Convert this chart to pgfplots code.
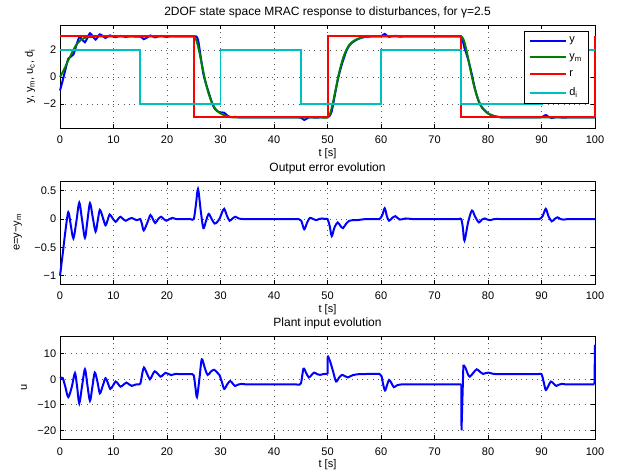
\documentclass[border=0pt]{standalone}
\usepackage{fontspec}
\setmainfont{Liberation Sans}
\usepackage{pgfplots}
\pgfplotsset{compat=1.18}
\definecolor{mblue}{rgb}{0,0,1}
\definecolor{mgreen}{rgb}{0,0.5,0}
\definecolor{mred}{rgb}{1,0,0}
\definecolor{mcyan}{rgb}{0,0.75,0.75}
\newcommand{\myfs}{\fontsize{11bp}{13bp}\selectfont}
\newcommand{\myft}{\fontsize{12bp}{14bp}\selectfont}
\pgfplotsset{mystyle/.style={
  scale only axis, width=535bp, height=103bp,
  xmin=0, xmax=100, xtick={0,10,...,100},
  xticklabels={0,10,20,30,40,50,60,70,80,90,100},
  grid=major,
  major grid style={black!65, line width=0.6pt, dash pattern=on 0.8bp off 4.5bp},
  axis line style={line width=0.8pt},
  tick style={black, line width=0.6pt},
  major tick length=4bp,
  tick align=inside,
  xtick pos=both, ytick pos=both,
  clip=false,
  tick label style={font=\myfs},
  label style={font=\myfs},
  xlabel={t [s]},
  xlabel style={at={(axis description cs:0.5,0)}, anchor=base, yshift=-28.5bp, inner sep=0pt},
  xticklabel style={anchor=base, yshift=-16bp, inner sep=0pt},
  every axis title/.style={font=\myft, at={(axis description cs:0.5,1)}, anchor=base, yshift=9.5bp, inner sep=0pt},
  ylabel style={anchor=base, inner sep=0pt},
  every axis plot/.append style={line width=2pt},
}}
\begin{document}
\myfs
\begin{tikzpicture}
\useasboundingbox (0,0) rectangle (618bp,475bp);
% ---------------- Plot 1 ----------------
\begin{axis}[mystyle, at={(60bp,347bp)}, anchor=south west,
  ymin=-3.78, ymax=3.85, ytick={-2,0,2}, yticklabels={−2,0,2},
  title={2DOF state space MRAC response to disturbances, for γ=2.5},
  ylabel={y, y\textsubscript{m}, u\textsubscript{c}, d\textsubscript{i}},
  ylabel style={at={(axis description cs:-0.0505,0.5)}},
  legend style={at={(axis description cs:1,1)}, anchor=north east, xshift=-6bp, yshift=-6bp,
    draw=black, line width=0.6pt, fill=white, row sep=5.5bp, inner xsep=5bp, inner ysep=3.5bp,
    font=\myfs},
  legend cell align=left,
  legend image code/.code={\draw[#1, line width=2pt] (0bp,0bp) -- (36bp,0bp);},
]
\addplot[mblue, smooth] coordinates {
(0,-1) (0.5,-0.27) (1,0.53) (1.55,1.36) (2.0,1.5) (2.5,1.66) (3.05,2.33) (3.6,2.93) (4.1,2.8) (4.66,2.57) (5.1,2.89) (5.6,3.24) (6.1,3.02) (6.65,2.77) (7.05,2.97) (7.45,3.16) (8,3.03) (8.5,2.89) (8.9,2.98) (9.3,3.08) (9.85,3.01) (10.4,2.95) (10.85,3) (11.3,3.04) (11.8,3) (12.3,2.97) (12.85,3) (13.4,3.02) (13.85,3) (14.3,2.98) (14.65,2.99) (15,3) (15.3,2.92) (15.65,2.8) (16.3,2.93) (16.9,3.07) (17.35,3) (17.8,2.93) (18.35,3) (18.9,3.04) (19.4,3) (19.9,2.97) (20.45,3) (21,3.02) (21.7,3) (22.7,3) (23.7,3) (24.4,3) (25,3) (25.4,3.01) (25.8,2.76) (26.3,1.49) (26.8,0.22) (27.3,-0.53) (27.8,-1.15) (28.35,-1.84) (28.9,-2.35) (29.4,-2.53) (29.9,-2.64) (30.3,-2.63) (30.7,-2.65) (31.2,-2.84) (31.7,-2.97) (32.25,-2.97) (32.8,-2.96) (33.4,-2.99) (34.2,-3) (35.5,-3) (37.5,-3) (40,-3) (42.5,-3) (44,-3) (44.6,-3) (45.1,-3.03) (45.65,-3.18) (46.2,-3.06) (46.7,-2.98) (47.3,-3) (47.9,-3.02) (48.45,-3) (49,-2.99) (49.5,-3) (50,-3) (50.4,-2.88) (50.8,-2.53) (51.3,-1.49) (51.9,-0.25) (52.4,0.55) (52.9,1.21) (53.5,1.9) (54.1,2.35) (54.75,2.59) (55.4,2.75) (56.3,2.9) (57.2,2.98) (58.2,3) (59.1,3) (59.7,3) (60.2,3.06) (60.7,3.19) (61.1,3.05) (61.5,2.97) (62.1,3.02) (62.7,3.05) (63.5,2.99) (64.6,3.01) (65.8,3) (67.5,3) (70,3) (72.5,3) (74,3) (74.6,3) (75,3) (75.3,2.67) (75.6,2.16) (76.3,1.29) (77,0.15) (77.6,-0.93) (78.3,-1.85) (78.85,-2.24) (79.4,-2.47) (79.9,-2.67) (80.4,-2.79) (81.2,-2.9) (82.5,-2.99) (84.5,-3) (87,-3) (88.8,-3) (89.6,-3) (90.2,-2.95) (90.8,-2.82) (91.3,-2.95) (91.9,-3.04) (92.45,-3) (93,-2.97) (93.55,-3) (94.1,-3.01) (95,-3) (96.5,-3) (98.5,-3) (100,-3)
};
\addlegendentry{y}
\addplot[mgreen, smooth] coordinates {
(0,0) (0.5,0.35) (1,0.75) (1.5,1.2) (2,1.6) (2.5,2.0) (3,2.35) (3.5,2.6) (4,2.78) (4.5,2.88) (5,2.94) (6,2.98) (7,3) (8,3) (10,3) (13,3) (16,3) (19,3) (21.5,3) (23.2,3) (24.2,3) (25,3) (25.5,2.7) (26,1.92) (26.5,0.96) (27,0) (27.5,-0.84) (28,-1.5) (28.5,-1.98) (29,-2.34) (29.5,-2.55) (30,-2.7) (31,-2.88) (32,-2.97) (33,-3) (35,-3) (38,-3) (42,-3) (45,-3) (47.5,-3) (49,-3) (50,-3) (50.5,-2.7) (51,-1.92) (51.5,-0.96) (52,0) (52.5,0.84) (53,1.5) (53.5,1.98) (54,2.34) (54.5,2.55) (55,2.7) (56,2.88) (57,2.97) (58,3) (60,3) (63,3) (67,3) (70,3) (72.5,3) (74,3) (75,3) (75.5,2.7) (76,1.92) (76.5,0.96) (77,0) (77.5,-0.84) (78,-1.5) (78.5,-1.98) (79,-2.34) (79.5,-2.55) (80,-2.7) (81,-2.88) (82,-2.97) (83,-3) (85,-3) (88,-3) (92,-3) (96,-3) (100,-3)
};
\addlegendentry{y\textsubscript{m}}
\addplot[mred] coordinates {
(0,3) (25,3) (25,-3) (50,-3) (50,3) (75,3) (75,-3) (100,-3) (100,3)
};
\addlegendentry{r}
\addplot[mcyan] coordinates {
(0,2) (15,2) (15,-2) (30,-2) (30,2) (45,2) (45,-2) (60,-2) (60,2) (75,2) (75,-2) (90,-2) (90,2) (100,2)
};
\addlegendentry{d\textsubscript{i}}
\end{axis}
% ---------------- Plot 2 ----------------
\begin{axis}[mystyle, at={(60bp,191bp)}, anchor=south west,
  ymin=-1.146, ymax=0.671, ytick={-1,-0.5,0,0.5}, yticklabels={−1,−0.5,0,0.5},
  title={Output error evolution},
  ylabel={e=y−y\textsubscript{m}},
  ylabel style={at={(axis description cs:-0.0757,0.5)}},
]
\addplot[mblue, smooth] coordinates {
(0,-1) (0.5,-0.62) (1,-0.22) (1.55,0.12) (2.0,-0.1) (2.5,-0.34) (3.05,-0.05) (3.6,0.29) (4.1,0.0) (4.66,-0.33) (5.1,-0.05) (5.6,0.28) (6.1,0.04) (6.65,-0.22) (7.05,-0.03) (7.45,0.16) (8.0,0.03) (8.5,-0.11) (8.9,-0.02) (9.3,0.08) (9.85,0.01) (10.4,-0.05) (10.85,0) (11.3,0.04) (11.8,0) (12.3,-0.03) (12.85,0) (13.4,0.02) (13.85,0) (14.3,-0.02) (14.65,-0.01) (15,0) (15.3,-0.08) (15.65,-0.2) (16.3,-0.07) (16.9,0.07) (17.35,0) (17.8,-0.07) (18.35,0) (18.9,0.04) (19.4,0) (19.9,-0.03) (20.45,0) (21,0.02) (21.7,0) (22.7,0) (23.7,0) (24.4,0) (25,0) (25.4,0.25) (25.8,0.53) (26.3,0.15) (26.8,-0.16) (27.3,-0.03) (27.8,0.09) (28.35,0.0) (28.9,-0.08) (29.4,-0.05) (29.9,0.02) (30.3,0.12) (30.7,0.18) (31.2,0.06) (31.7,-0.03) (32.25,0.01) (32.8,0.04) (33.4,0.01) (34.2,0) (35.5,0) (37.5,0) (40,0) (42.5,0) (44,0) (44.6,0) (45.1,-0.03) (45.65,-0.18) (46.2,-0.06) (46.7,0.02) (47.3,0) (47.9,-0.02) (48.45,0) (49,0.01) (49.5,0) (50,0) (50.4,-0.12) (50.8,-0.3) (51.3,-0.15) (51.9,-0.06) (52.4,-0.12) (52.9,-0.16) (53.5,-0.08) (54.1,-0.03) (54.75,-0.02) (55.4,-0.02) (56.3,-0.01) (57.2,0) (58.2,0) (59.1,0) (59.7,0) (60.2,0.06) (60.7,0.19) (61.1,0.05) (61.5,-0.03) (62.1,0.02) (62.7,0.05) (63.5,-0.01) (64.6,0.01) (65.8,0) (67.5,0) (70,0) (72.5,0) (74,0) (74.6,0) (75,0) (75.3,-0.15) (75.6,-0.38) (76.3,-0.05) (77,0.15) (77.6,0.04) (78.3,-0.06) (78.85,-0.01) (79.4,0.01) (79.9,-0.01) (80.4,-0.02) (81.2,0) (82.5,0) (84.5,0) (87,0) (88.8,0) (89.6,0) (90.2,0.05) (90.8,0.18) (91.3,0.05) (91.9,-0.04) (92.45,0) (93,0.03) (93.55,0) (94.1,-0.01) (95,0) (96.5,0) (98.5,0) (100,0)
};
\end{axis}
% ---------------- Plot 3 ----------------
\begin{axis}[mystyle, at={(60bp,36bp)}, anchor=south west,
  ymin=-23.4, ymax=16.93, ytick={-20,-10,0,10}, yticklabels={−20,−10,0,10},
  title={Plant input evolution},
  ylabel={u},
  ylabel style={at={(axis description cs:-0.0617,0.5)}},
]
\addplot[mblue, smooth] coordinates {
(0,0.4) (0.5,0.5) (1.0,-3) (1.55,-7) (2.2,-3) (2.8,2.4) (3.2,-3) (3.6,-9.4) (4.1,-3) (4.66,3.9) (5.1,-2) (5.6,-8.4) (6.05,-3) (6.5,2.6) (7.0,-1) (7.45,-5.5) (8.0,-2.5) (8.5,0.4) (8.95,-1.5) (9.4,-3.8) (9.9,-2.5) (10.4,-0.9) (10.85,-1.8) (11.3,-2.9) (11.85,-2.2) (12.4,-1.3) (12.9,-2) (13.4,-2.6) (13.85,-2.3) (14.3,-2) (14.7,-2) (15.05,-1.5) (15.4,2.5) (15.7,4.6) (16.2,2.5) (16.8,0) (17.25,1.6) (17.7,3.1) (18.25,2.2) (18.8,1) (19.25,1.7) (19.7,2.5) (20.25,2.1) (20.8,1.6) (21.25,1.9) (21.7,2.1) (22.4,2) (23.2,2) (23.9,2) (24.5,2) (25,1.5) (25.3,-3) (25.6,-7) (26.05,0) (26.5,7.8) (27.05,4.5) (27.6,1.7) (28.2,3) (28.8,3.7) (29.3,2.8) (29.8,1.7) (30.25,-1) (30.7,-3.8) (31.25,-2) (31.8,-0.7) (32.25,-1.6) (32.7,-2.6) (33.3,-2.1) (33.9,-1.8) (34.7,-2) (36,-2) (38,-2) (40.5,-2) (42.5,-2) (43.8,-2) (44.5,-2.1) (45.05,-1.5) (45.5,4.1) (46,2.5) (46.5,0.7) (47,1.6) (47.5,2.6) (48.05,2) (48.6,1.7) (49.2,2) (49.75,2.1) (50,2.1)
};
\addplot[mblue] coordinates {(50,2.1) (50.05,9.2)};
\addplot[mblue, smooth] coordinates {
(50.05,9.2) (50.5,6.9) (51.05,3) (51.6,-0.9) (52.15,0.6) (52.7,1.7) (53.25,1.2) (53.8,0.7) (54.3,1.2) (54.75,1.6) (55.4,1.9) (56.2,2) (57.2,2.05) (58.2,2.1) (59.1,2.1) (59.7,2.1) (60.1,1.2) (60.4,-2) (60.75,-4.4) (61.1,-2.5) (61.5,-0.3) (61.95,-1.5) (62.4,-3.1) (62.95,-2.4) (63.5,-2.1) (64.3,-2) (65.5,-2) (67.5,-2) (70,-2) (72.5,-2) (74,-2) (74.6,-2) (75,-2)
};
\addplot[mblue] coordinates {(75,-2) (75.05,-20) (75.4,5.6)};
\addplot[mblue, smooth] coordinates {
(75.4,5.6) (75.8,4.4) (76.2,2.2) (76.6,1) (77.25,2.5) (77.9,3.9) (78.5,2.9) (79.1,2.1) (79.6,2.4) (80.1,2.6) (80.8,2.2) (81.7,2) (83,2) (85,2) (87,2) (88.5,2) (89.4,2) (90,2) (90.4,-1) (90.8,-4.2) (91.3,-2.5) (91.75,-0.9) (92.25,-1.7) (92.75,-2.6) (93.3,-2.1) (93.8,-1.8) (94.5,-2) (95.5,-2) (97,-2) (98.5,-2) (99.4,-2) (99.9,-2)
};
\addplot[mblue] coordinates {(99.9,-2) (100,13.5)};
\end{axis}
\end{tikzpicture}
\end{document}
